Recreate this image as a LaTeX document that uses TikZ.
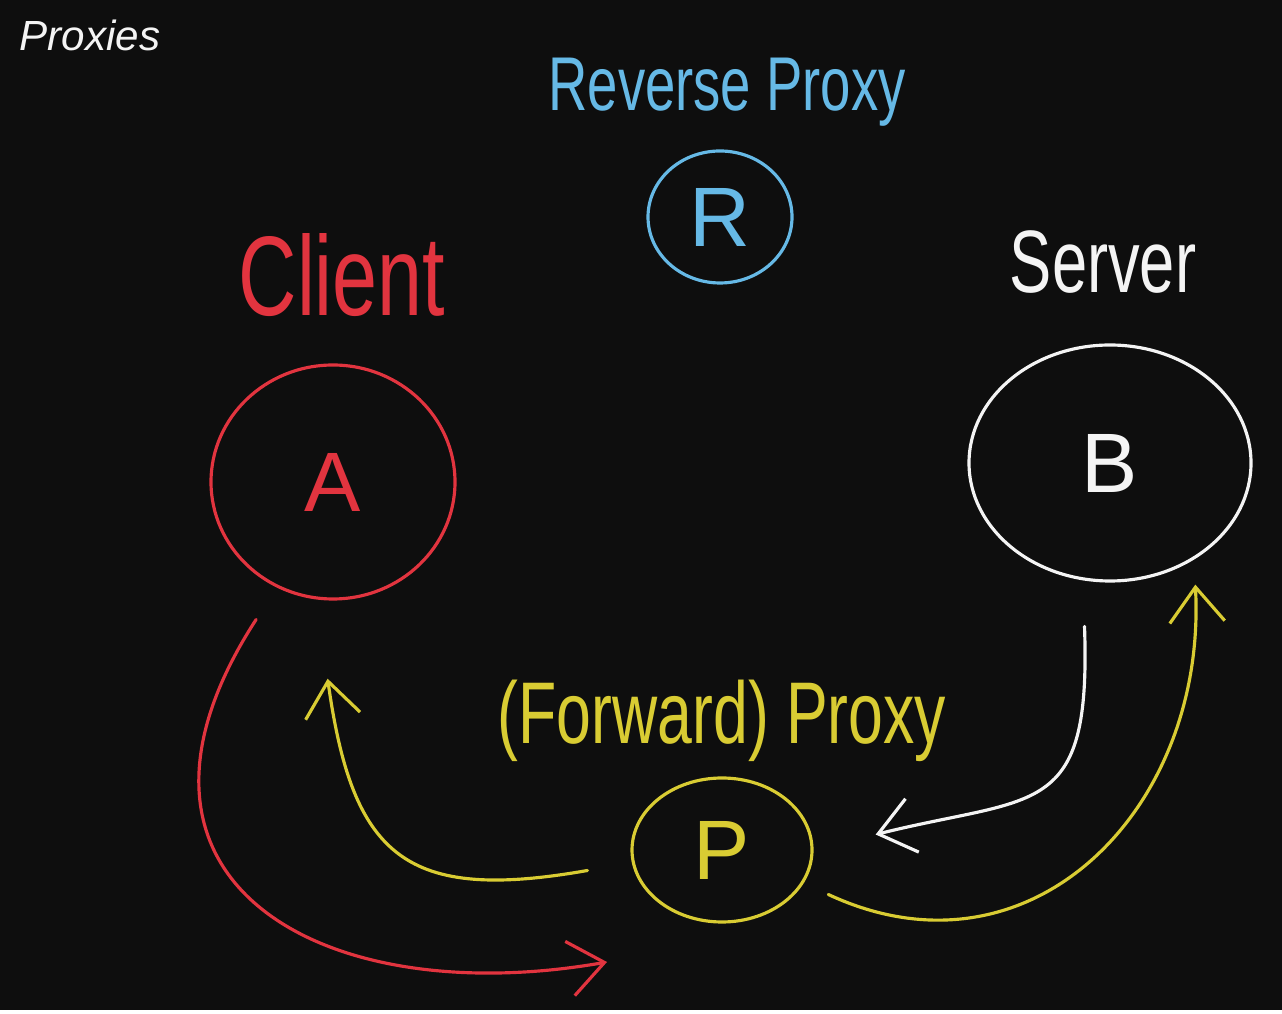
\documentclass[tikz,border=0pt]{standalone}
\usepackage{fontspec}
\setmainfont{Liberation Sans}
\usetikzlibrary{positioning,arrows.meta,shapes.geometric}
\definecolor{board}{HTML}{0E0E0E}
\definecolor{ink}{HTML}{F4F4F4}
\definecolor{cli}{HTML}{E2343F}
\definecolor{rev}{HTML}{66B9E6}
\definecolor{fwd}{HTML}{D9CC33}
\newcommand{\hand}[1]{\scalebox{1}[1.4]{#1}}

\begin{document}
\begin{tikzpicture}[
  line width=0.9pt, line cap=round, line join=round,
  host/.style={draw, ellipse, inner sep=0pt, font=\fontsize{24}{28}\selectfont},
  lbl/.style={inner sep=1pt},
  ar/.style={-{Straight Barb[length=3.5mm,width=5.5mm]}}
]
\fill[board] (0,0) rectangle (12.82,-10.10);
\node[anchor=west, inner sep=0pt, text=ink, font=\fontsize{12}{14}\selectfont\itshape] (title) at (0.18,-0.35) {Proxies};

% machines
\node[host, draw=cli, text=cli, minimum width=2.44cm, minimum height=2.34cm] (A) at (3.33,-4.82) {A};
\node[host, draw=ink, text=ink, minimum width=2.82cm, minimum height=2.36cm] (B) at (11.10,-4.63) {B};
\node[host, draw=rev, text=rev, minimum width=1.44cm, minimum height=1.32cm] (R) at (7.20,-2.17) {R};
\node[host, draw=fwd, text=fwd, minimum width=1.80cm, minimum height=1.44cm] (P) at (7.22,-8.50) {P};

\node[lbl, text=cli, font=\fontsize{23}{28}\selectfont, above=4.2mm of A, xshift=0.9mm] (client) {\hand{Client}};
\node[lbl, text=ink, font=\fontsize{18}{22}\selectfont, above=4.5mm of B, xshift=-0.7mm] (server) {\hand{Server}};
\node[lbl, text=rev, font=\fontsize{15.5}{19}\selectfont, above=1.8mm of R, xshift=0.7mm] (revlbl) {\hand{Reverse Proxy}};
\node[lbl, text=fwd, font=\fontsize{17.8}{22}\selectfont, above=1mm of P] (fwdlbl) {\hand{(Forward) Proxy}};

% request paths
\coordinate (red-tip) at (6.07,-9.62);
\draw[ar, cli, shorten <=3.8mm] (A.242) .. controls +(237:3.5) and +(190:2.9) .. (red-tip);
\draw[ar, fwd, shorten <=4.5mm, shorten >=8mm] (P.188) .. controls +(190:2.3) and +(278:2.6) .. (A.262);
\draw[ar, fwd, shorten <=2.7mm, shorten >=2.5mm] (P.-22) .. controls +(-25:2.5) and +(273:2.5) .. (B.-49);
\draw[ar, ink, shorten <=4.6mm, shorten >=6.4mm] (B.257) .. controls +(272:2.4) and +(14:2.3) .. (P.east);
\end{tikzpicture}
\end{document}
